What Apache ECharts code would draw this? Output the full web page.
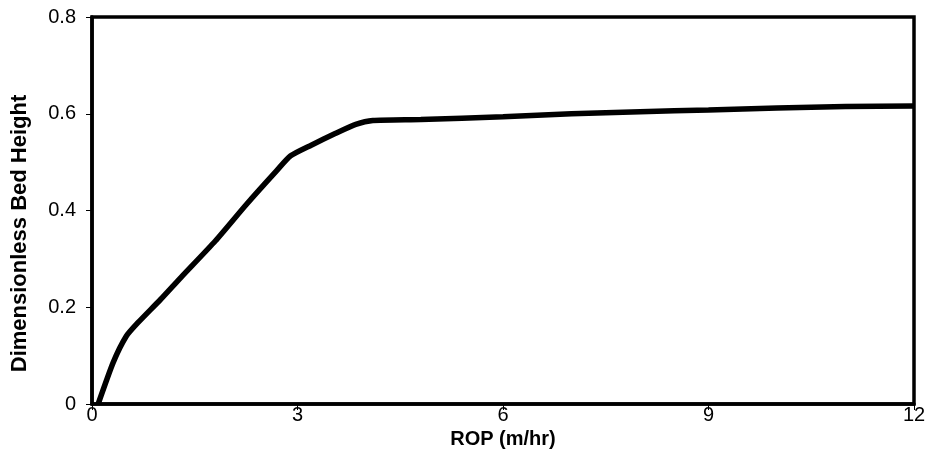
<!DOCTYPE html>
<html><head><meta charset="utf-8">
<script src="https://cdn.jsdelivr.net/npm/echarts@6/dist/echarts.min.js"></script>
<style>html,body{margin:0;padding:0;background:#fff}#c{width:929px;height:472px}</style>
</head><body><div id="c"></div>
<script>
var rop = [0.09,0.31,0.5,0.67,1.0,1.3,1.8,2.25,2.7,2.9,3.2,3.55,3.85,4.1,4.8,6,7,8,9,10,11,12];
var bedHeight = [0,0.086,0.14,0.168,0.216,0.262,0.337,0.412,0.483,0.513,0.535,0.559,0.578,0.586,0.588,0.594,0.6,0.604,0.608,0.612,0.615,0.616];
var xTicks = [0,3,6,9,12];
var yTicks = [0,0.2,0.4,0.6,0.8];
var data = rop.map(function(x,i){return [x,bedHeight[i]];});
var chart = echarts.init(document.getElementById('c'));
chart.setOption({
  animation:false,
  grid:{left:92,right:15,top:17,bottom:68,show:true,borderColor:'#000',borderWidth:3.5,backgroundColor:'#fff'},
  xAxis:{type:'value',min:xTicks[0],max:xTicks[xTicks.length-1],interval:3,
    name:'ROP (m/hr)',nameLocation:'middle',nameGap:21,
    nameTextStyle:{fontFamily:'Liberation Sans',fontWeight:'bold',fontSize:20,color:'#000'},
    axisLine:{lineStyle:{color:'#000',width:3.5}},
    axisTick:{show:true,inside:false,length:6,lineStyle:{color:'#000',width:1}},
    axisLabel:{fontFamily:'Liberation Sans',fontSize:20,color:'#000',margin:1},
    splitLine:{show:false}},
  yAxis:{type:'value',min:yTicks[0],max:yTicks[yTicks.length-1],interval:0.2,
    name:'Dimensionless Bed Height',nameLocation:'middle',nameGap:61,
    nameTextStyle:{fontFamily:'Liberation Sans',fontWeight:'bold',fontSize:22,color:'#000',padding:[0,46,0,0]},
    axisLine:{lineStyle:{color:'#000',width:3.5}},
    axisTick:{show:true,inside:false,length:6,lineStyle:{color:'#000',width:1}},
    axisLabel:{fontFamily:'Liberation Sans',fontSize:20,color:'#000',margin:16,
      formatter:function(v){return v===0?'0':v.toFixed(1);}},
    splitLine:{show:false}},
  series:[{type:'line',data:data,showSymbol:false,smooth:0.2,
    lineStyle:{color:'#000',width:5.5}}]
});
</script></body></html>
